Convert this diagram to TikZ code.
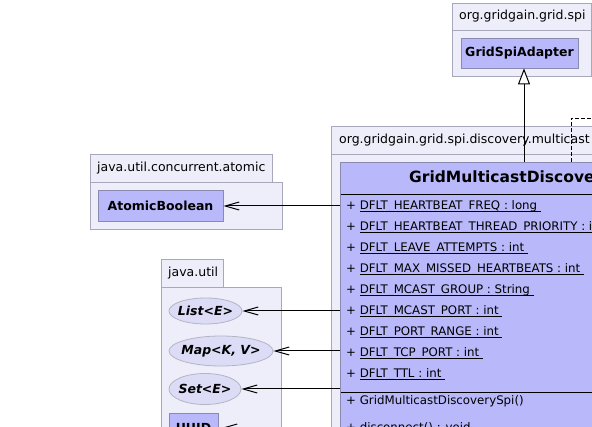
\documentclass[tikz,border=0pt]{standalone}
\usepackage{fontspec}
\setmainfont{DejaVu Sans}
\usetikzlibrary{arrows.meta,shapes.geometric}

\definecolor{pkgfill}{HTML}{EEEEFA}
\definecolor{pkgline}{HTML}{A8A8BC}
\definecolor{clsfill}{HTML}{B8B8FA}
\definecolor{clsline}{HTML}{8A8AB0}
\definecolor{ifcfill}{HTML}{DCDCF6}
\definecolor{ifcline}{HTML}{B4B4C4}

% static field: underlined, one space longer than the text
\newcommand{\statfld}[1]{\setbox0\hbox{#1\ }\rlap{\rule[-2.4pt]{\wd0}{0.7pt}}\box0}

\tikzset{
  pkg/.style={draw=pkgline, fill=pkgfill, line width=0.8pt},
  pkglabel/.style={anchor=west, inner sep=0pt, font=\fontsize{12.5}{14}\selectfont},
  cls/.style={draw=clsline, fill=clsfill, line width=0.8pt, inner sep=0pt,
    font=\bfseries\fontsize{12.5}{14}\selectfont},
  ifc/.style={ellipse, draw=ifcline, fill=ifcfill, line width=0.8pt,
    inner xsep=-6pt, inner ysep=0pt, font=\bfseries\itshape\fontsize{12.5}{14}\selectfont},
  clsname/.style={anchor=west, inner sep=0pt, font=\bfseries\fontsize{15.5}{18}\selectfont},
  member/.style={anchor=west, inner sep=0pt, font=\fontsize{11.8}{14}\selectfont},
  sep/.style={line width=0.8pt},
  uses/.style={line width=1pt, -{Straight Barb[length=14pt,width=8pt]}},
  extends/.style={line width=1pt, -{Triangle[length=16pt,width=12pt,fill=white]}},
  realizes/.style={line width=0.8pt, dash pattern=on 4pt off 2pt},
}

\begin{document}
\begin{tikzpicture}[x=1pt, y=-1pt]
  \useasboundingbox (0,0) rectangle (592,427) ;
  \clip (0,0) rectangle (592,427) ;

  % packages
  \draw[pkg] (452,3) rectangle (591.5,30) ;
  \draw[pkg] (452,30) rectangle (591.5,76) ;
  \node[pkglabel] (spipkg) at (459,16) {org.gridgain.grid.spi} ;

  \draw[pkg] (331,126) rectangle (640,154) ;
  \draw[pkg] (331,154) rectangle (640,470) ;
  \node[pkglabel] (mcastpkg) at (339,140) {org.gridgain.grid.spi.discovery.multicast} ;

  \draw[pkg] (90,154) rectangle (272,182) ;
  \draw[pkg] (90,182) rectangle (282,229) ;
  \node[pkglabel] (atomicpkg) at (97,168) {java.util.concurrent.atomic} ;

  \draw[pkg] (161,259) rectangle (223,287) ;
  \draw[pkg] (161,287) rectangle (281,470) ;
  \node[pkglabel] (utilpkg) at (168,273) {java.util} ;

  % classes and interfaces
  \node[cls, minimum width=117pt, minimum height=30pt] (adapter) at (519.5,53) {GridSpiAdapter} ;
  \node[cls, minimum width=125pt, minimum height=31pt] (atomic) at (160.5,206) {AtomicBoolean} ;
  \node[ifc, minimum width=73pt, minimum height=26pt] (list) at (205.5,311) {List<E>} ;
  \node[ifc, minimum width=104pt, minimum height=30pt] (map) at (221,351) {Map<K, V>} ;
  \node[ifc, minimum width=72pt, minimum height=31pt] (set) at (205,389) {Set<E>} ;
  \node[cls, minimum width=49pt, minimum height=30pt] (uuid) at (193.5,428) {UUID} ;

  % the multicast spi class
  \node[cls, anchor=north west, minimum width=300pt, minimum height=320pt] (spi) at (340,162) {} ;
  \node[clsname] (spiname) at (409,178) {GridMulticastDiscoverySpi} ;
  \draw[sep] (341,194) -- (640,194) ;
  \node[member] (f1) at (346,206) {+ \statfld{DFLT\_HEARTBEAT\_FREQ : long}} ;
  \node[member] (f2) at (346,227) {+ \statfld{DFLT\_HEARTBEAT\_THREAD\_PRIORITY : int}} ;
  \node[member] (f3) at (346,248) {+ \statfld{DFLT\_LEAVE\_ATTEMPTS : int}} ;
  \node[member] (f4) at (346,269) {+ \statfld{DFLT\_MAX\_MISSED\_HEARTBEATS : int}} ;
  \node[member] (f5) at (346,290) {+ \statfld{DFLT\_MCAST\_GROUP : String}} ;
  \node[member] (f6) at (346,311) {+ \statfld{DFLT\_MCAST\_PORT : int}} ;
  \node[member] (f7) at (346,332) {+ \statfld{DFLT\_PORT\_RANGE : int}} ;
  \node[member] (f8) at (346,353) {+ \statfld{DFLT\_TCP\_PORT : int}} ;
  \node[member] (f9) at (346,374) {+ \statfld{DFLT\_TTL : int}} ;
  \draw[sep] (341,392) -- (640,392) ;
  \node[member] (ctor) at (346,401) {+ GridMulticastDiscoverySpi()} ;
  \node[member] (m1) at (346,428) {+ disconnect() : void} ;

  % relations
  \coordinate (inh) at (524,162) ;
  \draw[extends] (inh) -- (inh |- adapter.south) ;
  \coordinate (real) at (571,162) ;
  \draw[realizes] (real) -- ++(0,-44) -- ++(40,0) ;
  \draw[uses] (spi.west |- atomic.east) -- (atomic.east) ;
  \draw[uses] (spi.west |- list.east) -- (list.east) ;
  \draw[uses] (spi.west |- map.east) -- (map.east) ;
  \draw[uses] (spi.west |- set.east) -- (set.east) ;
  \draw[uses] (spi.west |- uuid.east) -- ([xshift=3pt]uuid.east) ;
\end{tikzpicture}
\end{document}
